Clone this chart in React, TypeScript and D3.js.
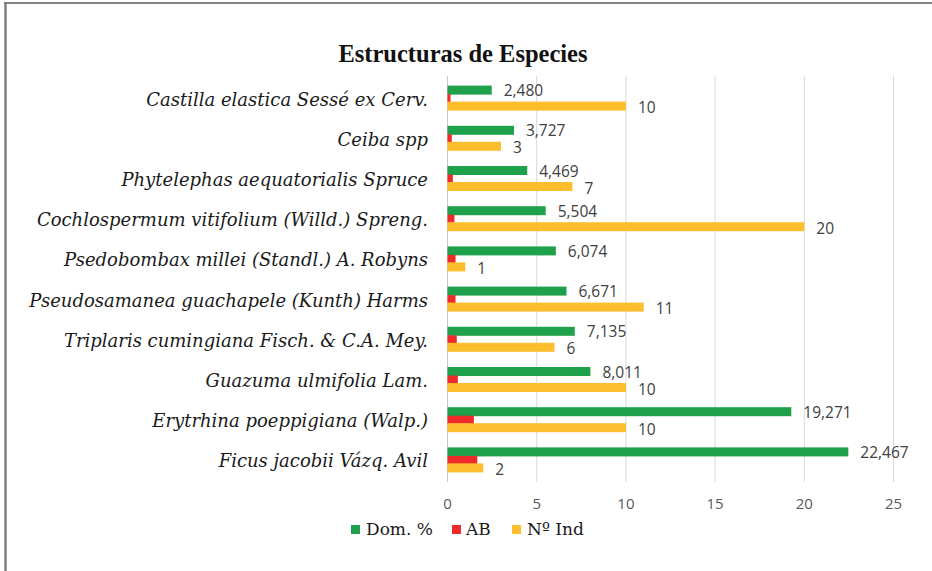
import React from "react";
import * as d3 from "d3";

const categories = [
  "Castilla elastica Sessé ex Cerv.",
  "Ceiba spp",
  "Phytelephas aequatorialis Spruce",
  "Cochlospermum vitifolium (Willd.) Spreng.",
  "Psedobombax millei (Standl.) A. Robyns",
  "Pseudosamanea guachapele (Kunth) Harms",
  "Triplaris cumingiana Fisch. & C.A. Mey.",
  "Guazuma ulmifolia Lam.",
  "Erytrhina poeppigiana (Walp.)",
  "Ficus jacobii Vázq. Avil",
];
const domValues = [2.48, 3.727, 4.469, 5.504, 6.074, 6.671, 7.135, 8.011, 19.271, 22.467];
const abValues = [0.17, 0.24, 0.3, 0.39, 0.45, 0.45, 0.52, 0.58, 1.48, 1.67];
const indValues = [10, 3, 7, 20, 1, 11, 6, 10, 10, 2];
const xTicks = [0, 5, 10, 15, 20, 25];
const seriesNames = ["Dom. %", "AB", "Nº Ind"];
const title = "Estructuras de Especies";

const GREEN = "#1fa04a";
const RED = "#ee2a2a";
const YELLOW = "#fcbe2c";

const fmt = (v: number) => v.toFixed(3).replace(".", ",");

export default function App() {
  const W = 932;
  const H = 571;
  const x = d3.scaleLinear().domain([0, 25]).range([447.5, 893.5]);
  const y = d3.scaleBand<string>().domain(categories).range([78, 480]).padding(0);
  const bh = 9;
  const c = (cat: string) => (y(cat) as number) + y.bandwidth() / 2;
  const numFont = "'Open Sans', 'DejaVu Sans', sans-serif";
  const serif = "'Liberation Serif', 'Times New Roman', serif";
  const wideSerif = "'DejaVu Serif', serif";

  return (
    <svg
      width={W}
      height={H}
      style={{ position: "absolute", left: 0, top: 0, background: "#fff" }}
    >
      <rect x={0} y={0} width={W} height={H} fill="#fff" />
      <line x1={5.5} x2={5.5} y1={2} y2={H} stroke="#808080" strokeWidth={2.5} />
      <line x1={4} x2={W} y1={3} y2={3} stroke="#808080" strokeWidth={2} />

      <text
        x={463}
        y={62}
        textAnchor="middle"
        fontFamily={serif}
        fontWeight="bold"
        fontSize={24.5}
        fill="#111"
      >
        {title}
      </text>

      {xTicks.map((t) => (
        <line
          key={"g" + t}
          x1={x(t)}
          x2={x(t)}
          y1={76}
          y2={482}
          stroke={t === 0 ? "#c8c8c8" : "#d9d9d9"}
          strokeWidth={1}
        />
      ))}
      {xTicks.map((t) => (
        <text
          key={"t" + t}
          x={x(t)}
          y={503}
          textAnchor="middle"
          dominantBaseline="central"
          fontFamily={numFont}
          fontSize={15}
          fill="#595959"
        >
          {t}
        </text>
      ))}

      {categories.map((cat, i) => {
        const cy = c(cat);
        return (
          <g key={cat}>
            <text
              x={428}
              y={cy + 1}
              textAnchor="end"
              dominantBaseline="central"
              fontFamily={wideSerif}
              fontStyle="italic"
              fontSize={18}
              fill="#1a1a1a"
            >
              {cat}
            </text>
            <rect x={x(0)} y={cy - 12.5} width={x(domValues[i]) - x(0)} height={bh} fill={GREEN} />
            <rect x={x(0)} y={cy - 4} width={x(abValues[i]) - x(0)} height={bh - 1} fill={RED} />
            <rect x={x(0)} y={cy + 3.5} width={x(indValues[i]) - x(0)} height={bh} fill={YELLOW} />
            <text
              x={x(domValues[i]) + 12}
              y={cy - 8}
              dominantBaseline="central"
              fontFamily={numFont}
              fontSize={15.5}
              fill="#404040"
            >
              {fmt(domValues[i])}
            </text>
            <text
              x={x(indValues[i]) + 12}
              y={cy + 9}
              dominantBaseline="central"
              fontFamily={numFont}
              fontSize={15.5}
              fill="#404040"
            >
              {indValues[i]}
            </text>
          </g>
        );
      })}

      {[
        { name: seriesNames[0], color: GREEN, sx: 351, tx: 366 },
        { name: seriesNames[1], color: RED, sx: 452, tx: 466 },
        { name: seriesNames[2], color: YELLOW, sx: 512, tx: 527 },
      ].map((l) => (
        <g key={l.name}>
          <rect x={l.sx} y={525} width={9} height={9} fill={l.color} />
          <text x={l.tx} y={535} fontFamily={wideSerif} fontSize={17} fill="#1a1a1a">
            {l.name}
          </text>
        </g>
      ))}
    </svg>
  );
}
